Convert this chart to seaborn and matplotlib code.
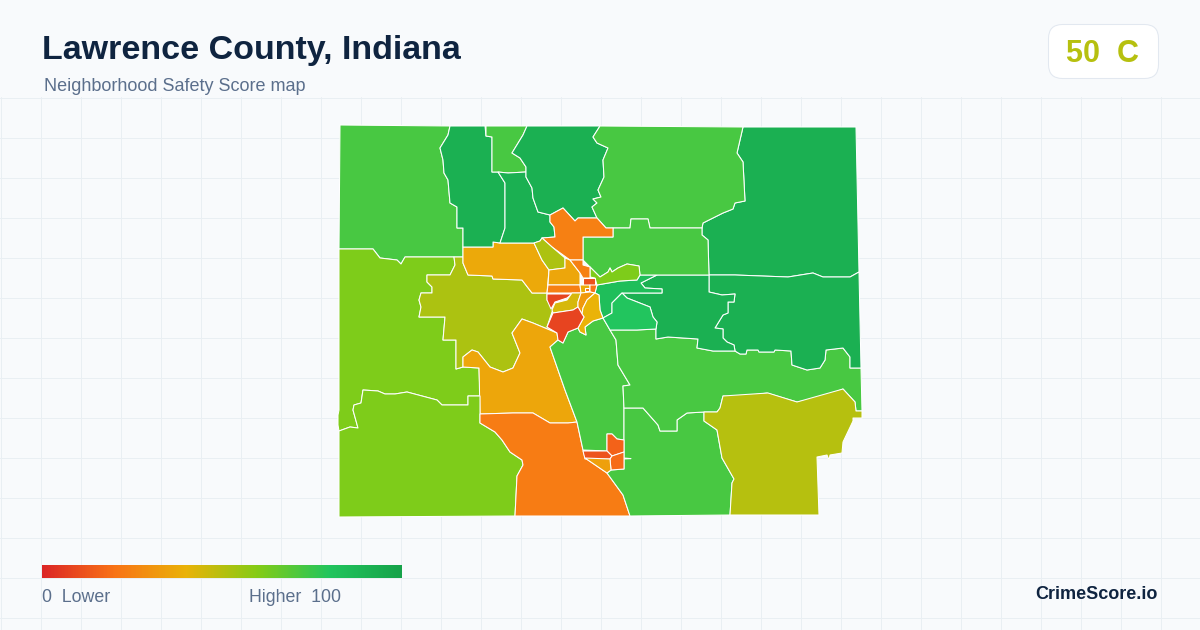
import matplotlib
matplotlib.use("Agg")
import matplotlib.pyplot as plt
import numpy as np
import seaborn as sns
from matplotlib.patches import FancyBboxPatch, Polygon

# --- text ---
TITLE = "Lawrence County, Indiana"
SUBTITLE = "Neighborhood Safety Score map"
BADGE = "50  C"
BRAND = "CrimeScore.io"
LEGEND_LOW = "0  Lower"
LEGEND_HIGH = "Higher  100"
OVERALL_SCORE = 50

# --- colour scale ---
SCALE_COLORS = ["#dc2626", "#f97316", "#eab308", "#84cc16", "#22c55e", "#16a34a"]

nw_green = [(340,125),(450,126),(448,135),(440,148),(443,160),(444,173),(448,180),(450,203),(457,207),(457,228),(463,228),(463,257),(454,257),(405,257),(401,264),(397,260),(380,258),(373,249),(339,249)]
west_lime = [(339,249),(373,249),(380,258),(397,260),(401,264),(405,257),(454,257),(455,265),(450,275),(427,275),(427,282),(432,287),(432,293),(421,293),(419,300),(421,307),(419,317),(445,317),(443,340),(456,340),(456,369),(463,367),(479,368),(480,396),(468,396),(468,405),(442,405),(437,400),(407,392),(395,394),(385,394),(378,391),(363,390),(361,403),(354,405),(353,410),(358,428),(350,427),(339,431),(338,425),(338,415),(339,410)]
olive_center = [(454,257),(463,257),(463,263),(468,275),(492,276),(493,279),(522,280),(532,293),(547,293),(547,300),(553,309),(547,327),(557,333),(533,323),(522,319),(512,333),(520,353),(513,368),(503,372),(490,367),(478,352),(472,350),(463,357),(463,367),(456,369),(456,340),(443,340),(445,317),(419,317),(421,307),(419,300),(421,293),(432,293),(432,287),(427,282),(427,275),(450,275),(455,265)]
amber_north = [(463,247),(493,247),(493,242),(500,243),(534,243),(542,260),(549,270),(547,293),(532,293),(522,280),(493,279),(492,276),(468,275),(463,263)]
amber_south = [(463,357),(472,350),(478,352),(490,367),(503,372),(513,368),(520,353),(512,333),(522,319),(533,323),(557,333),(558,340),(550,347),(565,390),(577,422),(568,423),(550,423),(533,413),(513,413),(480,414),(479,368),(463,367)]
sw_lime = [(339,431),(350,427),(358,428),(353,410),(354,405),(361,403),(363,390),(378,391),(385,394),(395,394),(407,392),(437,400),(442,405),(468,405),(468,396),(480,396),(480,423),(495,432),(502,440),(510,452),(522,460),(523,465),(517,476),(515,516),(339,517)]
south_orange = [(480,414),(513,413),(533,413),(550,423),(568,423),(577,422),(583,450),(585,458),(607,473),(623,495),(630,516),(515,516),(517,476),(523,465),(522,460),(510,452),(502,440),(495,432),(480,423)]
center_green = [(550,347),(558,340),(563,343),(568,332),(578,328),(580,332),(586,335),(585,327),(593,321),(603,318),(610,330),(616,340),(618,365),(630,385),(623,386),(624,408),(624,440),(617,439),(612,434),(607,434),(607,451),(583,450),(577,422),(565,390)]
south_green = [(624,408),(643,408),(658,425),(660,431),(677,431),(677,420),(687,413),(704,412),(704,421),(717,430),(722,458),(734,479),(732,483),(730,515),(630,516),(623,495),(607,473),(611,470),(624,469),(624,440)]
south_spur = [(624,458),(631,458.6),(624,459)]
east_green = [(610,330),(637,330),(656,329),(656,339),(668,337),(698,339),(697,348),(713,351),(735,351),(740,354),(746,354),(747,350),(758,350),(759,352),(774,352),(775,350),(791,351),(792,365),(807,370),(820,368),(825,360),(826,350),(843,348),(850,357),(850,368),(861,368),(862,411),(856,411),(855,402),(843,389),(823,397),(797,402),(767,393),(737,397),(723,396),(720,408),(717,412),(704,412),(687,413),(677,420),(677,431),(660,431),(658,425),(643,408),(624,408),(623,386),(630,385),(618,365),(616,340)]
east_olive = [(723,396),(768,393),(797,402),(843,389),(855,402),(856,411),(862,411),(862,418),(853,418),(853,421),(843,442),(842,453),(830,455),(829,460),(827,455),(817,457),(819,515),(730,515),(732,483),(734,479),(722,458),(717,430),(704,421),(704,412),(717,412),(720,408)]
ne_dark = [(743,127),(856,127),(859,272),(850,277),(823,277),(813,273),(788,277),(735,275),(709,275),(708,240),(702,235),(702,228),(703,223),(723,213),(733,209),(735,203),(745,201),(743,162),(737,153)]
east_dark = [(859,272),(861,368),(850,368),(850,357),(843,348),(826,350),(825,360),(820,368),(807,370),(792,365),(791,351),(775,350),(774,352),(759,352),(758,350),(747,350),(746,354),(740,354),(735,351),(734,345),(727,342),(723,338),(723,329),(715,328),(723,315),(728,313),(728,302),(734,302),(735,294),(722,295),(709,292),(709,275),(735,275),(788,277),(813,273),(823,277),(850,277)]
mid_dark = [(657,275),(709,275),(709,292),(722,295),(735,294),(734,302),(728,302),(728,313),(723,315),(715,328),(723,329),(723,338),(727,342),(734,345),(735,351),(713,351),(697,348),(698,339),(668,337),(656,339),(656,329),(657,322),(653,317),(650,307),(627,298),(622,293),(662,293),(662,289),(645,288),(641,283)]
band_green = [(597,285),(620,281),(637,280),(640,275),(657,275),(641,283),(645,288),(662,289),(662,293),(622,293),(612,303),(612,313),(603,318),(600,310),(599,295),(595,293)]
bright_green = [(622,293),(627,298),(650,307),(653,317),(657,322),(656,329),(637,330),(610,330),(603,318),(612,313),(612,303)]
col_one = [(450,126),(485,126),(486,136),(492,137),(492,172),(498,172),(505,183),(505,228),(500,243),(493,242),(493,247),(463,247),(463,228),(457,228),(457,207),(450,203),(448,180),(444,173),(443,160),(440,148),(448,135)]
top_green = [(486,126),(527,126),(523,135),(512,153),(520,158),(526,167),(526,172),(508,173),(498,172),(492,172),(492,137),(486,136)]
col_two = [(498,172),(508,173),(526,172),(526,177),(532,188),(533,198),(538,212),(550,215),(550,222),(554,227),(555,237),(542,238),(540,241),(534,243),(500,243),(505,228),(505,183)]
col_three = [(527,126),(600,126),(593,137),(597,143),(608,148),(603,160),(604,177),(598,190),(601,197),(593,199),(597,203),(592,207),(597,218),(578,218),(575,221),(563,208),(550,215),(538,212),(533,198),(532,188),(526,177),(526,167),(520,158),(512,153),(523,135)]
north_green = [(600,126),(743,127),(737,153),(743,162),(745,201),(735,203),(733,209),(723,213),(703,223),(702,228),(650,228),(648,219),(631,219),(630,228),(606,228),(597,218),(592,207),(597,203),(593,199),(601,197),(598,190),(604,177),(603,160),(608,148),(597,143),(593,137)]
mid_north_green = [(583,237),(613,237),(613,228),(630,228),(631,219),(648,219),(650,228),(702,228),(702,235),(708,240),(709,275),(640,275),(639,266),(627,264),(618,268),(612,272),(610,268),(608,272),(600,277),(590,267),(583,260)]
lime_blob = [(590,267),(600,277),(608,272),(610,268),(612,272),(618,268),(627,264),(639,266),(640,275),(637,280),(620,281),(597,285),(595,278),(590,277)]
orange_north = [(563,208),(550,215),(550,222),(554,227),(555,237),(542,238),(552,247),(570,260),(583,260),(583,237),(613,237),(613,228),(606,228),(597,218),(578,218),(575,221)]
olive_small = [(534,243),(540,241),(542,238),(552,247),(565,258),(565,268),(549,270),(542,260)]
amber_two = [(549,270),(565,268),(565,258),(570,260),(580,273),(580,285),(548,285)]
orange_band = [(548,285),(580,285),(581,293),(547,293)]
orange_stem = [(570,260),(583,260),(583,265),(590,267),(590,278),(583,278),(580,273)]
red_core = [(583,278),(595,278),(595,285),(583,285)]
amber_core = [(580,285),(590,285),(590,292),(581,293)]
orange_core = [(590,285),(597,285),(595,293),(590,292)]
inner_core = [(585,288),(589,288),(589,291),(585,291)]
red_band = [(547,294),(572,294),(567,298),(555,302),(551,309),(547,300)]
olive_amber = [(552,310),(555,303),(567,300),(572,293),(581,293),(578,302),(578,307),(573,310),(553,313)]
orange_amber = [(578,307),(578,302),(581,293),(590,292),(595,293),(587,300),(583,308),(582,314)]
yellow_amber = [(583,308),(587,300),(595,293),(599,295),(600,310),(603,318),(593,321),(585,327),(586,335),(580,332),(578,328),(584,317),(582,314)]
red_large = [(547,327),(553,313),(573,310),(578,307),(582,314),(584,317),(578,328),(568,332),(563,343),(558,340),(557,333)]
south_upper = [(607,434),(612,434),(617,439),(624,440),(624,452),(612,456),(607,451)]
south_red = [(583,451),(607,451),(612,456),(610,459),(585,459)]
south_lower = [(610,459),(612,456),(624,452),(624,469),(611,470)]
south_amber = [(585,458),(610,459),(611,470),(607,473)]

tract_outlines = [nw_green, west_lime, olive_center, amber_north, amber_south, sw_lime, south_orange,
                  center_green, south_green, south_spur, east_green, east_olive, ne_dark, east_dark, mid_dark,
                  band_green, bright_green, col_one, top_green, col_two, col_three, north_green,
                  mid_north_green, lime_blob, orange_north, olive_small, amber_two, orange_band,
                  orange_stem, red_core, amber_core, orange_core, inner_core, red_band, olive_amber, orange_amber,
                  yellow_amber, red_large, south_upper, south_red, south_lower, south_amber]
tract_scores = [72, 61, 52, 37, 36, 61, 23,
                72, 72, 72, 72, 50, 92, 92, 92,
                84, 80, 92, 72, 92, 92, 72,
                72, 61, 24, 52, 36, 24,
                24, 11, 38, 20, 22, 8, 44, 32,
                40, 8, 16, 12, 18, 34]

# --- page ---
PAGE = "#f8fafc"
GRID = "#e9eff3"
INK = "#0f2440"
MUTED = "#5b6f8c"

sns.set_theme(style="white")
plt.rcParams["font.family"] = ["Liberation Sans", "DejaVu Sans"]

fig = plt.figure(figsize=(12, 6.3), dpi=100, facecolor=PAGE)
ax = fig.add_axes([0, 0, 1, 1])
ax.set_xlim(0, 1200)
ax.set_ylim(630, 0)
ax.axis("off")

for gx in np.arange(0.5, 1200, 40):
    ax.plot([gx, gx], [97, 630], color=GRID, lw=0.72, zorder=1)
for gy in np.arange(97.5, 630, 40):
    ax.plot([0, 1200], [gy, gy], color=GRID, lw=0.72, zorder=1)

cmap = sns.blend_palette(SCALE_COLORS, as_cmap=True)

for outline, score in zip(tract_outlines, tract_scores):
    ax.add_patch(Polygon(outline, closed=True, facecolor=cmap(score / 100),
                         edgecolor="white", linewidth=0.75, joinstyle="round", zorder=3))

ax.text(42, 59.5, TITLE, fontsize=24.5, fontweight="bold", color=INK, va="baseline", ha="left")
ax.text(44, 90.7, SUBTITLE, fontsize=12.95, color=MUTED, va="baseline", ha="left")

ax.add_patch(FancyBboxPatch((1048.5, 24.5), 110, 54, boxstyle="round,pad=0,rounding_size=14",
                            facecolor="white", edgecolor="#e2e8f0", linewidth=0.75, zorder=4))
ax.text(1103, 62, BADGE, fontsize=22, fontweight="bold", color=cmap(OVERALL_SCORE / 100),
        va="baseline", ha="center", zorder=5)

ax.imshow(np.linspace(0, 1, 360).reshape(1, -1), cmap=cmap, extent=(42, 402, 578, 565),
          aspect="auto", zorder=4, interpolation="bilinear")
ax.set_xlim(0, 1200)
ax.set_ylim(630, 0)
ax.text(42, 602.5, LEGEND_LOW, fontsize=12.8, color=MUTED, va="baseline", ha="left", zorder=5)
ax.text(249, 602.5, LEGEND_HIGH, fontsize=12.8, color=MUTED, va="baseline", ha="left", zorder=5)
ax.text(1158, 599, BRAND, fontsize=13, fontweight="bold", color=INK, va="baseline", ha="right", zorder=5)

fig.savefig("out.png", dpi=100, facecolor=PAGE)
